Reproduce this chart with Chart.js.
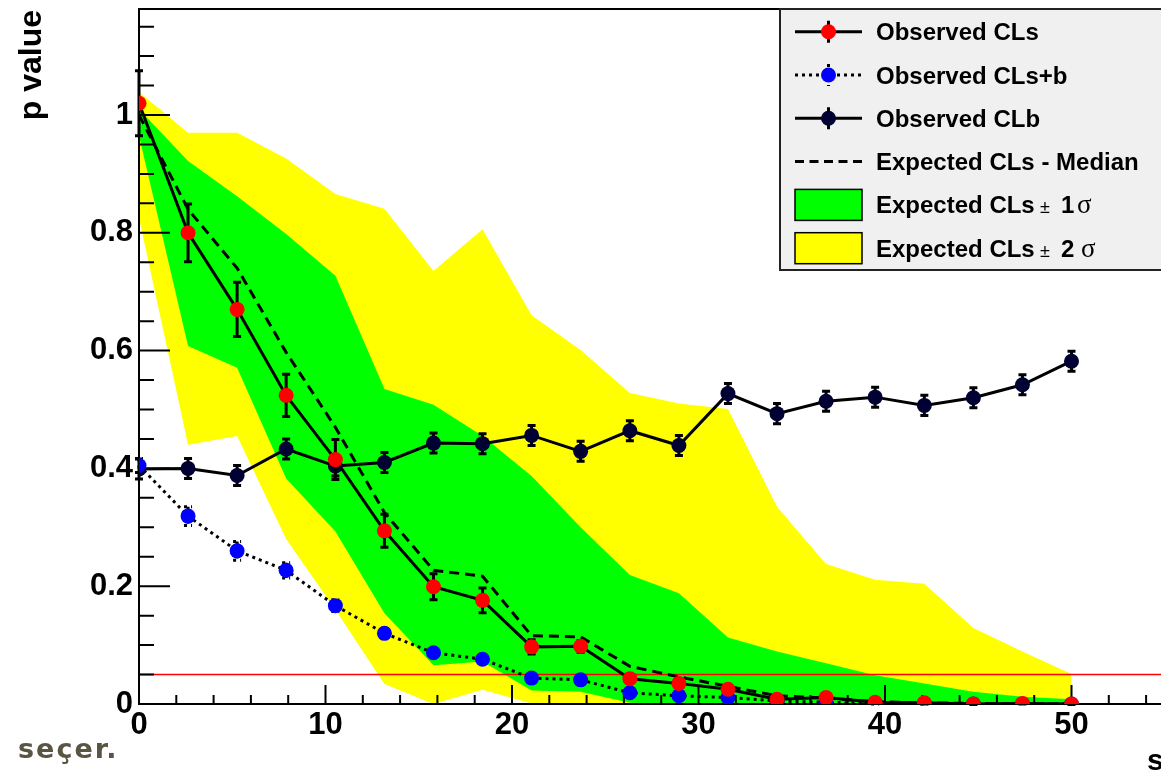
<!DOCTYPE html>
<html>
<head>
<meta charset="utf-8">
<title>CLs scan</title>
<script src="https://cdn.jsdelivr.net/npm/chart.js@4.4.1/dist/chart.umd.min.js"></script>
<style>
  html, body { margin: 0; padding: 0; background: #fff; overflow: hidden; }
  #wrap { position: relative; width: 1300px; height: 774px; }
  #plot { display: block; }
  .stamp { position: absolute; left: 18px; top: 735px; font: bold 27px/27px "DejaVu Sans", sans-serif; color: #5a5443; letter-spacing: 2px; }
</style>
</head>
<body>
<div id="wrap">
  <canvas id="plot" width="1300" height="774"></canvas>
  <div class="stamp">seçer.</div>
</div>
<script>
// scan points
const sValues = [0, 2.63, 5.26, 7.89, 10.53, 13.16, 15.79, 18.42, 21.05, 23.68, 26.32, 28.95, 31.58, 34.21, 36.84, 39.47, 42.11, 44.74, 47.37, 50];

// observed p values and their errors
const clsObs  = [1.02, 0.80, 0.67, 0.524, 0.415, 0.294, 0.199, 0.176, 0.097, 0.098, 0.043, 0.035, 0.025, 0.008, 0.011, 0.003, 0.002, 0.0, 0.001, 0.0];
const clsErr  = [0.055, 0.049, 0.046, 0.036, 0.034, 0.028, 0.022, 0.021, 0.012, 0.010, 0.007, 0.005, 0.004, 0.003, 0.003, 0.002, 0.002, 0.001, 0.001, 0.001];
const clsbObs = [0.405, 0.319, 0.260, 0.227, 0.167, 0.120, 0.087, 0.076, 0.044, 0.041, 0.019, 0.014, 0.011, 0.005, 0.003, 0.001, 0.001, 0.0, 0.0, 0.0];
const clsbErr = [0.012, 0.016, 0.016, 0.013, 0.010, 0.008, 0.006, 0.005, 0.004, 0.004, 0.003, 0.002, 0.002, 0.001, 0.001, 0.001, 0.001, 0.0, 0.0, 0.0];
const clbObs  = [0.399, 0.400, 0.388, 0.433, 0.404, 0.410, 0.443, 0.442, 0.456, 0.429, 0.464, 0.439, 0.527, 0.493, 0.514, 0.521, 0.507, 0.520, 0.542, 0.582];
const clbErr  = [0.017, 0.017, 0.017, 0.017, 0.017, 0.017, 0.017, 0.017, 0.017, 0.017, 0.017, 0.017, 0.017, 0.017, 0.017, 0.017, 0.017, 0.017, 0.017, 0.017];

// expected CLs: median and bands
const clsExp    = [1.0, 0.84, 0.74, 0.597, 0.47, 0.325, 0.227, 0.217, 0.116, 0.114, 0.064, 0.046, 0.030, 0.014, 0.010, 0.004, 0.002, 0.001, 0.0, 0.0];
const cls1sUp   = [1.01, 0.922, 0.862, 0.798, 0.727, 0.535, 0.508, 0.455, 0.387, 0.300, 0.219, 0.188, 0.113, 0.089, 0.069, 0.049, 0.035, 0.021, 0.0125, 0.008];
const cls1sDown = [0.965, 0.608, 0.571, 0.383, 0.293, 0.154, 0.066, 0.072, 0.023, 0.021, 0.002, 0.0, 0.0, 0.0, 0.0, 0.0, 0.0, 0.0, 0.0, 0.0];
const cls2sUp   = [1.039, 0.970, 0.970, 0.926, 0.866, 0.841, 0.735, 0.806, 0.660, 0.601, 0.528, 0.510, 0.501, 0.335, 0.2375, 0.211, 0.204, 0.129, 0.089, 0.051];
const cls2sDown = [0.825, 0.440, 0.455, 0.280, 0.160, 0.034, 0.0, 0.024, 0.001, 0.0, 0.0, 0.0, 0.0, 0.0, 0.0, 0.0, 0.0, 0.0, 0.0, 0.0];

const clLevel = 0.05;

// axes
const xRange = [0, 60];
const yRange = [0, 1.18];
const xTicks = [0, 10, 20, 30, 40, 50, 60];
const xTickLabels = ['0', '10', '20', '30', '40', '50', '60'];
const yTicks = [0, 0.2, 0.4, 0.6, 0.8, 1];
const yTickLabels = ['0', '0.2', '0.4', '0.6', '0.8', '1'];
const yTitle = 'p value';
const xTitle = 's';

const legendLabels = ['Observed CLs', 'Observed CLs+b', 'Observed CLb', 'Expected CLs - Median', 'Expected CLs', 'Expected CLs'];

const FONT = '"Liberation Sans", Arial, Helvetica, sans-serif';
const NAVY = '#000033';

const pts = ys => sValues.map((x, i) => ({ x, y: ys[i] }));

const band = (ys, color, fill, order) => ({
  data: pts(ys), fill, backgroundColor: color, borderColor: 'transparent',
  borderWidth: 0, pointRadius: 0, order
});

const datasets = [
  band(cls2sUp, '#ffff00', '+1', 7),
  band(cls2sDown, 'transparent', false, 7),
  band(cls1sUp, '#00ff00', '+1', 6),
  band(cls1sDown, 'transparent', false, 6),
  { data: [{ x: xRange[0], y: clLevel }, { x: xRange[1], y: clLevel }], borderColor: '#ff0000', borderWidth: 1.5, pointRadius: 0, order: 5 },
  { data: pts(clsExp), borderColor: '#000', borderWidth: 3, borderDash: [10, 6], pointRadius: 0, order: 4, frameBefore: true },
  { data: pts(clbObs), borderColor: '#000', borderWidth: 3, pointRadius: 7.5, pointBorderWidth: 0, pointBackgroundColor: NAVY, order: 3, errors: clbErr },
  { data: pts(clsbObs), borderColor: '#000', borderWidth: 3, borderDash: [3, 4], pointRadius: 7.5, pointBorderWidth: 0, pointBackgroundColor: '#0000ff', order: 2, errors: clsbErr },
  { data: pts(clsObs), borderColor: '#000', borderWidth: 3, pointRadius: 7.5, pointBorderWidth: 0, pointBackgroundColor: '#ff0000', order: 1, errors: clsErr }
];

function drawFrame(chart) {
  const { ctx, chartArea: a, scales: { x, y } } = chart;
  ctx.save();
  ctx.strokeStyle = '#000';
  ctx.lineWidth = 2;
  ctx.setLineDash([]);
  ctx.strokeRect(a.left, a.top, a.right - a.left, a.bottom - a.top);
  ctx.beginPath();
  for (let k = 0; k * 0.05 <= yRange[1]; k++) {
    const py = y.getPixelForValue(k * 0.05);
    const len = (k % 4 === 0) ? 31 : 15;
    ctx.moveTo(a.left, py);
    ctx.lineTo(a.left + len, py);
  }
  for (let k = 0; k * 2 <= xRange[1]; k++) {
    const px = x.getPixelForValue(k * 2);
    const len = (k % 5 === 0) ? 19 : 9;
    ctx.moveTo(px, a.bottom);
    ctx.lineTo(px, a.bottom - len);
  }
  ctx.stroke();
  ctx.restore();
}

function drawErrors(chart, ds) {
  const { ctx, scales: { x, y } } = chart;
  ctx.save();
  ctx.strokeStyle = '#000';
  ctx.lineWidth = 3;
  ctx.setLineDash(ds.borderDash || []);
  ds.data.forEach((p, i) => {
    const e = ds.errors[i];
    if (!e) return;
    const px = x.getPixelForValue(p.x);
    const top = y.getPixelForValue(p.y + e);
    const bot = y.getPixelForValue(p.y - e);
    ctx.beginPath();
    ctx.moveTo(px, top); ctx.lineTo(px, bot);
    ctx.moveTo(px - 4, top); ctx.lineTo(px + 4, top);
    ctx.moveTo(px - 4, bot); ctx.lineTo(px + 4, bot);
    ctx.stroke();
  });
  ctx.restore();
}

function dot(ctx, x, y, r, color) {
  ctx.beginPath();
  ctx.arc(x, y, r, 0, Math.PI * 2);
  ctx.fillStyle = color;
  ctx.fill();
}

function drawLegend(chart) {
  const ctx = chart.ctx;
  const L = 780, T = 9, R = 1250, B = 270;
  ctx.save();
  ctx.fillStyle = '#f0f0f0';
  ctx.fillRect(L, T, R - L, B - T);
  ctx.strokeStyle = '#222';
  ctx.lineWidth = 2;
  ctx.strokeRect(L, T, R - L, B - T);

  const x0 = 795, x1 = 862, xm = 828.5, tx = 876;
  const rowY = i => 31.7 + i * 43.3;
  const sample = (cy, dash, color) => {
    ctx.strokeStyle = '#000';
    ctx.lineWidth = 3;
    ctx.setLineDash(dash);
    ctx.beginPath();
    ctx.moveTo(x0, cy); ctx.lineTo(x1, cy);
    ctx.moveTo(xm, cy - 11); ctx.lineTo(xm, cy + 11);
    ctx.stroke();
    ctx.setLineDash([]);
    if (color) dot(ctx, xm, cy, 7.5, color);
  };
  sample(rowY(0), [], '#ff0000');
  sample(rowY(1), [3, 4], '#0000ff');
  sample(rowY(2), [], NAVY);

  ctx.strokeStyle = '#000';
  ctx.lineWidth = 3;
  ctx.setLineDash([9, 5.5]);
  ctx.beginPath();
  ctx.moveTo(x0, rowY(3)); ctx.lineTo(x1, rowY(3));
  ctx.stroke();
  ctx.setLineDash([]);

  [['#00ff00', rowY(4)], ['#ffff00', rowY(5)]].forEach(([c, cy]) => {
    ctx.fillStyle = c;
    ctx.fillRect(x0, cy - 15.5, x1 - x0, 31);
    ctx.lineWidth = 1.5;
    ctx.strokeStyle = '#000';
    ctx.strokeRect(x0, cy - 15.5, x1 - x0, 31);
  });

  ctx.fillStyle = '#000';
  ctx.textBaseline = 'alphabetic';
  ctx.textAlign = 'left';
  ctx.font = 'bold 24px ' + FONT;
  legendLabels.forEach((t, i) => ctx.fillText(t, tx, rowY(i) + 8.5));
  [[4, '1', 1077], [5, '2', 1081]].forEach(([i, n, sx]) => {
    const by = rowY(i) + 8.5;
    ctx.font = '18px ' + FONT;
    ctx.fillText('\u00b1', 1040, by);
    ctx.font = 'bold 24px ' + FONT;
    ctx.fillText(n, 1061, by);
    ctx.font = '27px "Liberation Serif", "Times New Roman", serif';
    ctx.fillText('\u03c3', sx, by);
  });
  ctx.restore();
}

function drawTitles(chart) {
  const ctx = chart.ctx;
  ctx.save();
  ctx.fillStyle = '#000';
  ctx.font = 'bold 32px ' + FONT;
  ctx.translate(41, 10);
  ctx.rotate(-Math.PI / 2);
  ctx.textAlign = 'right';
  ctx.textBaseline = 'alphabetic';
  ctx.fillText(yTitle, 0, 0);
  ctx.restore();

  ctx.save();
  ctx.fillStyle = '#000';
  ctx.font = 'bold 30px ' + FONT;
  ctx.textAlign = 'left';
  ctx.fillText(xTitle, 1147, 770);
  ctx.restore();
}

const rootStyle = {
  id: 'rootStyle',
  beforeDatasetDraw(chart, args) {
    const ds = chart.data.datasets[args.index];
    if (ds.frameBefore) drawFrame(chart);
    if (ds.errors) drawErrors(chart, ds);
  },
  afterDraw(chart) {
    drawLegend(chart);
    drawTitles(chart);
  }
};

const tickFont = { family: FONT, size: 31, weight: 'bold' };

new Chart(document.getElementById('plot'), {
  type: 'line',
  data: { datasets },
  options: {
    responsive: false,
    animation: false,
    devicePixelRatio: 1,
    events: [],
    layout: { autoPadding: false, padding: { top: 9, right: 42, left: 0, bottom: 0 } },
    plugins: { legend: { display: false }, tooltip: { enabled: false } },
    scales: {
      x: {
        type: 'linear', min: xRange[0], max: xRange[1],
        grid: { display: false, drawTicks: false },
        border: { display: false },
        afterBuildTicks: s => { s.ticks = xTicks.map(v => ({ value: v })); },
        afterFit: s => { s.height = 70; s.paddingLeft = 0; s.paddingRight = 0; },
        ticks: { color: '#000', font: tickFont, padding: 3, maxRotation: 0, autoSkip: false,
                 callback: (v, i) => xTickLabels[i] }
      },
      y: {
        type: 'linear', min: yRange[0], max: yRange[1],
        grid: { display: false, drawTicks: false },
        border: { display: false },
        afterBuildTicks: s => { s.ticks = yTicks.map(v => ({ value: v })); },
        afterFit: s => { s.width = 139; s.paddingTop = 0; s.paddingBottom = 0; },
        ticks: { color: '#000', font: tickFont, padding: 6, autoSkip: false,
                 callback: (v, i) => yTickLabels[i] }
      }
    }
  },
  plugins: [rootStyle]
});
</script>
</body>
</html>
